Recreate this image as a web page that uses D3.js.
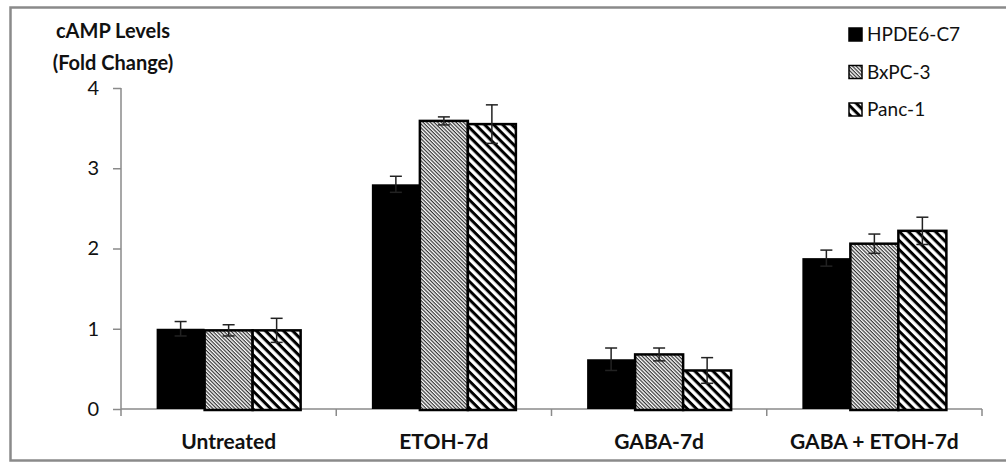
<!DOCTYPE html>
<html>
<head>
<meta charset="utf-8">
<script src="https://cdn.jsdelivr.net/npm/d3@7"></script>
<style>
  body { margin: 0; background: #fff; }
  text { font-family: Lato, "Open Sans", sans-serif; fill: #111; }
</style>
</head>
<body>
<div id="chart"></div>
<script>
// data
const categories = ["Untreated", "ETOH-7d", "GABA-7d", "GABA + ETOH-7d"];
const seriesNames = ["HPDE6-C7", "BxPC-3", "Panc-1"];
const hpdeValues = [1.0, 2.8, 0.62, 1.88];
const hpdeErrors = [0.09, 0.1, 0.14, 0.1];
const bxpcValues = [0.98, 3.59, 0.68, 2.06];
const bxpcErrors = [0.07, 0.05, 0.08, 0.12];
const pancValues = [0.98, 3.55, 0.48, 2.22];
const pancErrors = [0.15, 0.24, 0.16, 0.17];
const yTicks = [0, 1, 2, 3, 4];

const W = 1006, H = 462;
const plot = { left: 121, right: 982, top: 88, bottom: 409 };

const svg = d3.select("#chart").append("svg")
  .attr("width", W)
  .attr("height", H);

// hatch patterns
const defs = svg.append("defs");
function hatch(id, period, thick, color) {
  const p = defs.append("pattern")
    .attr("id", id)
    .attr("patternUnits", "userSpaceOnUse")
    .attr("width", 10)
    .attr("height", period)
    .attr("patternTransform", "rotate(45)");
  p.append("rect").attr("width", 10).attr("height", period).attr("fill", "#fff");
  p.append("rect").attr("width", 10).attr("height", thick).attr("fill", color);
}
hatch("fine", 2.6, 1.2, "#333");
hatch("wide", 6.4, 3, "#000");

const fills = ["#000", "url(#fine)", "url(#wide)"];

// outer frame
svg.append("rect")
  .attr("x", 10.5).attr("y", 7.5)
  .attr("width", 1010).attr("height", 453)
  .attr("fill", "none")
  .attr("stroke", "#8a8a8a")
  .attr("stroke-width", 2.5);

const x = d3.scaleBand().domain(categories).range([plot.left, plot.right]);
const xs = d3.scaleBand().domain(seriesNames).range([0, x.bandwidth()]).paddingOuter(0.742);
const y = d3.scaleLinear().domain([0, 4]).range([plot.bottom, plot.top]);

// table for the bars
const rows = [];
categories.forEach(function (c, i) {
  rows.push({ cat: c, s: 0, v: hpdeValues[i], e: hpdeErrors[i] });
  rows.push({ cat: c, s: 1, v: bxpcValues[i], e: bxpcErrors[i] });
  rows.push({ cat: c, s: 2, v: pancValues[i], e: pancErrors[i] });
});

// y axis
const yAxis = svg.append("g")
  .attr("transform", "translate(" + plot.left + ",0)")
  .call(d3.axisLeft(y).tickValues(yTicks).tickSize(8).tickPadding(14).tickFormat(d3.format("d")));
yAxis.select(".domain").remove();
yAxis.append("line").attr("x1", 0).attr("x2", 0).attr("y1", plot.top).attr("y2", plot.bottom + 7)
  .attr("stroke", "#8a8a8a").attr("stroke-width", 1.5);
yAxis.selectAll(".tick line").attr("stroke", "#8a8a8a").attr("stroke-width", 1.5);
yAxis.selectAll(".tick text").style("font-size", "20px").attr("fill", "#222");

// x axis baseline and separators
const xg = svg.append("g");
xg.append("line").attr("x1", plot.left).attr("x2", plot.right)
  .attr("y1", plot.bottom).attr("y2", plot.bottom)
  .attr("stroke", "#8a8a8a").attr("stroke-width", 1.5);
xg.selectAll(".sep").data(categories.slice(1).concat(["end"]))
  .enter().append("line")
  .attr("class", "sep")
  .attr("x1", function (d, i) { return i < categories.length - 1 ? x(d) : plot.right; })
  .attr("x2", function (d, i) { return i < categories.length - 1 ? x(d) : plot.right; })
  .attr("y1", plot.bottom).attr("y2", plot.bottom + 7)
  .attr("stroke", "#8a8a8a").attr("stroke-width", 1.5);
xg.selectAll(".cat").data(categories)
  .enter().append("text")
  .attr("x", function (d) { return x(d) + x.bandwidth() / 2; })
  .attr("y", 449)
  .attr("text-anchor", "middle")
  .style("font-size", "21px")
  .style("font-weight", "bold")
  .text(function (d) { return d; });

// bars
svg.selectAll(".bar").data(rows)
  .enter().append("rect")
  .attr("class", "bar")
  .attr("x", function (d) { return x(d.cat) + xs(seriesNames[d.s]); })
  .attr("y", function (d) { return y(d.v); })
  .attr("width", xs.bandwidth())
  .attr("height", function (d) { return y(0) - y(d.v) + (d.s ? 1 : 0); })
  .attr("fill", function (d) { return fills[d.s]; })
  .attr("stroke", function (d) { return d.s ? "#000" : "none"; })
  .attr("stroke-width", 2.5);

// error bars
const eb = svg.selectAll(".err").data(rows).enter().append("g")
  .attr("class", "err")
  .attr("transform", function (d) { return "translate(" + (x(d.cat) + xs(seriesNames[d.s]) + xs.bandwidth() / 2) + ",0)"; })
  .attr("stroke", "#222").attr("stroke-width", 1.5);
eb.append("line")
  .attr("y1", function (d) { return y(d.v + d.e); })
  .attr("y2", function (d) { return y(d.v - d.e); });
eb.append("line").attr("x1", -6).attr("x2", 6)
  .attr("y1", function (d) { return y(d.v + d.e); })
  .attr("y2", function (d) { return y(d.v + d.e); });
eb.append("line").attr("x1", -6).attr("x2", 6)
  .attr("y1", function (d) { return y(d.v - d.e); })
  .attr("y2", function (d) { return y(d.v - d.e); });

// y title
svg.append("text").attr("x", 113).attr("y", 38).attr("text-anchor", "middle")
  .style("font-size", "20px").style("font-weight", "bold").text("cAMP Levels");
svg.append("text").attr("x", 113).attr("y", 70).attr("text-anchor", "middle")
  .style("font-size", "20px").style("font-weight", "bold").text("(Fold Change)");

// legend
const lg = svg.selectAll(".leg").data(seriesNames).enter().append("g")
  .attr("class", "leg")
  .attr("transform", function (d, i) { return "translate(849," + (28 + i * 37.5) + ")"; });
lg.append("rect").attr("width", 13).attr("height", 13)
  .attr("fill", function (d, i) { return fills[i]; })
  .attr("stroke", "#000").attr("stroke-width", 1.5);
lg.append("text").attr("x", 18).attr("y", 13)
  .style("font-size", "19px")
  .text(function (d) { return d; });
</script>
</body>
</html>
